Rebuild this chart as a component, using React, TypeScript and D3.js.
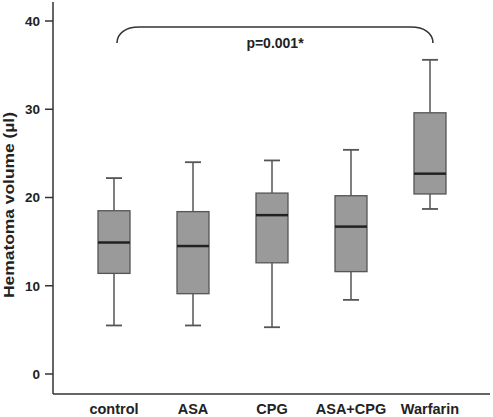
import React from "react";
import * as d3 from "d3";

const categories = ["control", "ASA", "CPG", "ASA+CPG", "Warfarin"];
const whiskerLow = [5.5, 5.5, 5.3, 8.4, 18.7];
const q1 = [11.4, 9.1, 12.6, 11.6, 20.4];
const medians = [14.9, 14.5, 18.0, 16.7, 22.7];
const q3 = [18.5, 18.4, 20.5, 20.2, 29.6];
const whiskerHigh = [22.2, 24.0, 24.2, 25.4, 35.6];
const yTicks = [0, 10, 20, 30, 40];
const yLabel = "Hematoma volume (µl)";
const pLabel = "p=0.001*";
const bracketFrom = "control";
const bracketTo = "Warfarin";
const bracketValue = 37.5;

const W = 493;
const H = 417;
const axisX = 53;
const axisY = 394;

export default function App() {
  const y = d3.scaleLinear().domain([0, 40]).range([374, 21]);
  const x = d3.scalePoint<string>().domain(categories).range([114, 430]);
  const boxW = 32;
  const capW = 16;
  const font = "'Liberation Sans', Arial, Helvetica, sans-serif";

  const bx1 = (x(bracketFrom) as number) + 3;
  const bx2 = (x(bracketTo) as number) + 3;
  const by = y(bracketValue);
  const bTop = by - 16;
  const r = 22;
  const bracketPath = `M${bx1},${by} C${bx1},${bTop + 6} ${bx1 + 9},${bTop} ${bx1 + r},${bTop} L${bx2 - r},${bTop} C${bx2 - 9},${bTop} ${bx2},${bTop + 6} ${bx2},${by}`;

  return (
    <svg
      width={W}
      height={H}
      style={{ position: "absolute", left: 0, top: 0, background: "#fff" }}
      fontFamily={font}
    >
      {/* axes */}
      <line x1={axisX} x2={axisX} y1={2} y2={axisY} stroke="#333" strokeWidth={1.5} />
      <line x1={axisX} x2={490} y1={axisY} y2={axisY} stroke="#333" strokeWidth={1.5} />
      {yTicks.map((t) => (
        <g key={t}>
          <line x1={axisX - 8} x2={axisX} y1={y(t)} y2={y(t)} stroke="#333" strokeWidth={1.5} />
          <text
            x={40}
            y={y(t)}
            dy="0.36em"
            textAnchor="end"
            fontSize={13.5}
            fontWeight="bold"
            fill="#222"
          >
            {t}
          </text>
        </g>
      ))}
      <text
        transform={`translate(14,205) rotate(-90)`}
        textAnchor="middle"
        fontSize={14}
        fontWeight="bold"
        fill="#222"
        textLength={186}
        lengthAdjust="spacingAndGlyphs"
      >
        {yLabel}
      </text>
      {categories.map((c) => (
        <text
          key={c}
          x={x(c) as number}
          y={414}
          textAnchor="middle"
          fontSize={14.5}
          fontWeight="bold"
          fill="#222"
        >
          {c}
        </text>
      ))}
      {/* boxes */}
      {categories.map((c, i) => {
        const cx = x(c) as number;
        return (
          <g key={c}>
            <line x1={cx} x2={cx} y1={y(whiskerHigh[i])} y2={y(q3[i])} stroke="#555" strokeWidth={1.5} />
            <line x1={cx} x2={cx} y1={y(q1[i])} y2={y(whiskerLow[i])} stroke="#555" strokeWidth={1.5} />
            <line x1={cx - capW / 2} x2={cx + capW / 2} y1={y(whiskerHigh[i])} y2={y(whiskerHigh[i])} stroke="#555" strokeWidth={1.8} />
            <line x1={cx - capW / 2} x2={cx + capW / 2} y1={y(whiskerLow[i])} y2={y(whiskerLow[i])} stroke="#555" strokeWidth={1.8} />
            <rect
              x={cx - boxW / 2}
              y={y(q3[i])}
              width={boxW}
              height={y(q1[i]) - y(q3[i])}
              fill="#9a9a9a"
              stroke="#555"
              strokeWidth={1.3}
            />
            <line x1={cx - boxW / 2} x2={cx + boxW / 2} y1={y(medians[i])} y2={y(medians[i])} stroke="#222" strokeWidth={2.5} />
          </g>
        );
      })}
      {/* significance bracket */}
      <path d={bracketPath} fill="none" stroke="#333" strokeWidth={1.6} />
      <text
        x={(bx1 + bx2) / 2}
        y={48}
        textAnchor="middle"
        fontSize={14}
        fontWeight="bold"
        fill="#222"
      >
        {pLabel}
      </text>
    </svg>
  );
}
